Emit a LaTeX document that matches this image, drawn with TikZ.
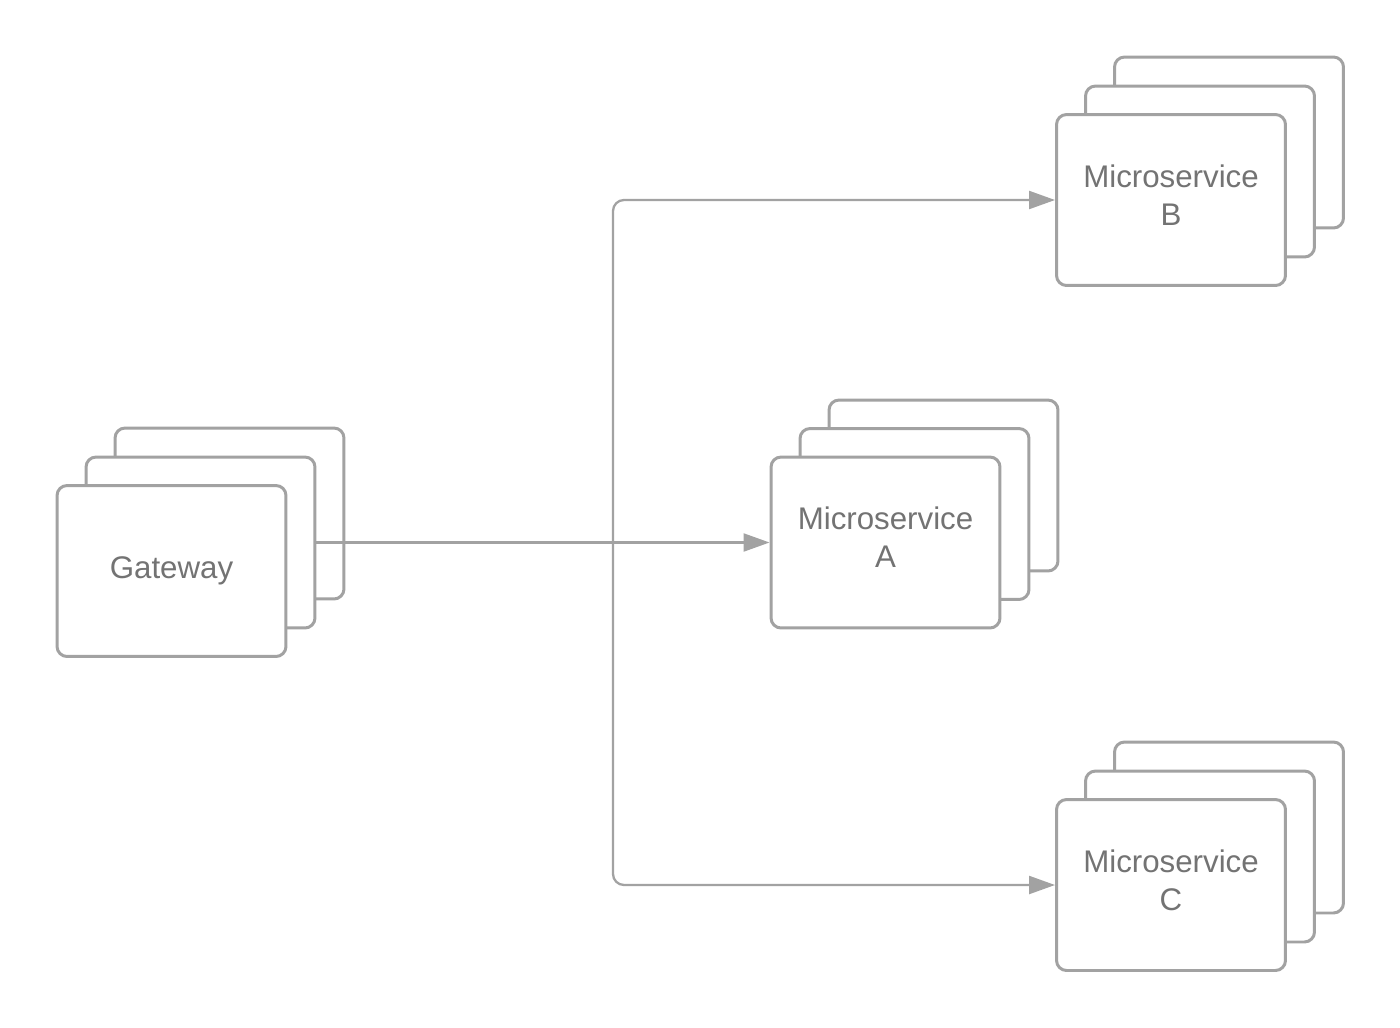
\documentclass[tikz,border=0pt]{standalone}
\usepackage{fontspec}
\setmainfont{Liberation Sans}
\usetikzlibrary{arrows.meta}

\definecolor{linegray}{HTML}{A2A2A2}
\definecolor{textgray}{HTML}{737373}

\tikzset{
  card/.style={draw=linegray, line width=1.7pt, rounded corners=0.2cm, fill=white,
    minimum width=4.58cm, minimum height=3.42cm, align=center, text=textgray,
    font=\fontsize{17.8}{21.5}\selectfont},
  service/.style={card, text depth=0.2cm},
  conn/.style={draw=linegray, line width=1.3pt, -{Triangle[length=0.52cm, width=0.36cm]}}
}

\begin{document}
\begin{tikzpicture}[x=0.02cm, y=-0.02cm]
  \useasboundingbox (0,0) rectangle (1400,1028);
  % gateway stack
  \node[card] (gw3) at (229.5,513.5) {};
  \node[card] (gw2) at (200.5,542.5) {};
  \node[card] (gw1) at (171.5,571) {Gateway};
  % microservice A
  \node[card] (msA3) at (943.5,485.5) {};
  \node[card] (msA2) at (914.5,514) {};
  \node[service] (msA) at (885.5,542.5) {Microservice\\A};
  % microservice B
  \node[card] (msB3) at (1229,142.5) {};
  \node[card] (msB2) at (1200,171.5) {};
  \node[service] (msB) at (1171,200) {Microservice\\B};
  % microservice C
  \node[card] (msC3) at (1229,827.5) {};
  \node[card] (msC2) at (1200,856.5) {};
  \node[service] (msC) at (1171,885) {Microservice\\C};
  % connectors
  \coordinate (split) at (613,542.5);
  \draw[conn] (gw2.east) -- (msA.west);
  \draw[conn, rounded corners=0.22cm] (split) |- (msB.west);
  \draw[conn, rounded corners=0.22cm] (split) |- (msC.west);
\end{tikzpicture}
\end{document}
